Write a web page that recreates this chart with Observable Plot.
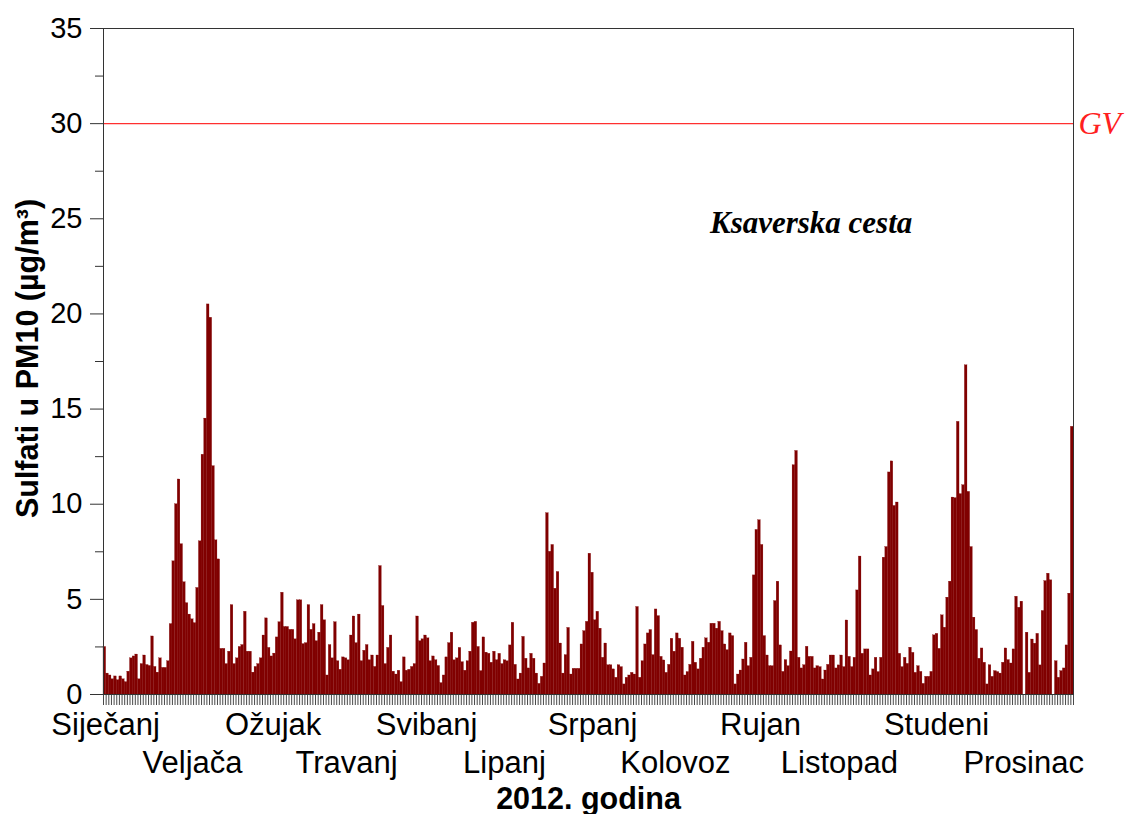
<!DOCTYPE html>
<html>
<head>
<meta charset="utf-8">
<script src="https://cdn.jsdelivr.net/npm/d3@7"></script>
<script src="https://cdn.jsdelivr.net/npm/@observablehq/plot@0.6"></script>
<style>
  html, body { margin: 0; padding: 0; background: #fff; }
  svg { display: block; }
</style>
</head>
<body>
<div id="chart"></div>
<script>
// Daily sulfate in PM10 (µg/m³), Ksaverska cesta, 2012
const jan = [2.5, 1.1, 1.0, 0.8, 0.95, 0.75, 0.95, 0.8, 0.65, 1.2, 1.9, 2.0, 2.1, 0.8, 1.6, 2.05, 1.55, 1.5, 3.05, 1.45, 1.15, 1.9, 1.4, 1.4, 1.75, 3.7, 7.0, 10.0, 11.3, 7.9, 5.9];
const feb = [4.8, 4.2, 3.95, 3.75, 5.6, 8.05, 12.6, 14.5, 20.5, 19.8, 12.0, 8.1, 7.1, 2.4, 2.4, 1.6, 2.25, 4.7, 1.6, 1.9, 2.5, 2.6, 4.35, 2.25, 2.25, 1.15, 1.45, 1.6, 1.9];
const mar = [3.1, 4.0, 2.45, 2.0, 2.15, 3.0, 3.8, 5.35, 3.55, 3.55, 3.4, 3.4, 2.9, 4.95, 4.95, 2.65, 2.7, 4.7, 3.4, 3.7, 2.8, 3.25, 4.7, 3.9, 1.0, 2.6, 1.9, 3.8, 1.75, 1.3, 1.95];
const apr = [1.9, 1.8, 3.1, 4.1, 2.7, 4.2, 1.75, 2.3, 2.6, 1.8, 2.05, 1.45, 2.05, 6.75, 4.65, 1.6, 2.45, 3.1, 1.2, 1.05, 1.25, 0.65, 1.95, 1.25, 1.3, 1.45, 1.6, 4.1, 2.8, 2.9];
const may = [3.1, 2.95, 1.75, 2.0, 1.8, 1.5, 0.6, 1.0, 1.95, 2.7, 3.25, 1.8, 1.9, 2.45, 1.7, 1.25, 1.75, 2.25, 3.77, 3.82, 2.5, 1.23, 3.0, 2.2, 2.14, 1.67, 2.25, 1.8, 2.14, 1.6, 1.8];
const jun = [1.75, 2.58, 3.77, 1.56, 0.79, 1.1, 3.03, 1.88, 1.37, 2.14, 1.88, 1.1, 0.56, 0.93, 1.63, 9.53, 7.5, 7.86, 5.56, 6.44, 2.68, 1.1, 2.07, 3.5, 1.05, 1.35, 1.35, 1.35, 2.63, 3.33];
const jul = [3.82, 7.4, 6.4, 3.9, 4.35, 3.46, 1.93, 2.68, 1.54, 1.54, 1.32, 0.88, 1.54, 1.44, 0.53, 0.88, 1.0, 1.14, 1.05, 4.6, 0.88, 1.75, 2.63, 3.21, 3.39, 2.07, 4.47, 4.12, 1.98, 1.79, 1.14];
const aug = [1.56, 2.93, 2.25, 3.21, 2.93, 2.46, 1.0, 1.18, 1.56, 2.77, 1.67, 1.32, 1.88, 2.46, 2.95, 2.72, 3.72, 3.72, 3.46, 3.82, 3.33, 2.63, 2.33, 3.21, 3.07, 0.53, 1.05, 1.26, 1.84, 2.72, 1.49];
const sep = [1.93, 6.26, 8.65, 9.16, 7.86, 3.07, 2.05, 1.49, 1.49, 4.91, 5.93, 2.58, 1.19, 1.81, 1.49, 2.26, 12.05, 12.8, 1.93, 1.37, 1.54, 2.51, 1.98, 1.98, 1.37, 1.49, 1.44, 0.79, 1.26, 1.56];
const oct = [2.05, 2.05, 1.37, 1.53, 2.05, 1.44, 3.89, 1.98, 1.44, 1.93, 5.47, 7.25, 2.14, 2.37, 2.37, 1.0, 1.32, 1.93, 1.18, 1.93, 7.19, 7.75, 11.67, 12.25, 9.91, 10.09, 2.14, 1.44, 1.93, 1.61, 2.46];
const nov = [2.19, 1.14, 1.49, 1.19, 0.56, 0.93, 0.93, 1.19, 3.11, 3.19, 2.4, 4.16, 3.51, 5.09, 5.93, 10.35, 10.32, 14.33, 10.53, 11.0, 17.3, 10.65, 7.75, 4.04, 3.39, 1.88, 2.42, 1.67, 0.53, 1.54];
const dec = [0.93, 1.23, 1.18, 1.1, 1.67, 2.42, 1.81, 1.63, 2.37, 5.14, 4.56, 4.88, 0, 3.25, 1.14, 2.89, 2.67, 3.19, 1.53, 4.39, 5.96, 6.35, 6.0, 0, 1.75, 0.88, 1.23, 1.37, 2.58, 5.3, 14.07];

const monthNames = ["Siječanj", "Veljača", "Ožujak", "Travanj", "Svibanj", "Lipanj", "Srpanj", "Kolovoz", "Rujan", "Listopad", "Studeni", "Prosinac"];
// day-of-year where each month label is centred in the picture
const monthLabelDays = [0.8, 33.6, 64, 91.7, 121.9, 151.3, 184.5, 215.8, 247.9, 277.7, 314.3, 347.2];

const yTicks = [0, 5, 10, 15, 20, 25, 30, 35];
const yMinorTicks = [2.5, 7.5, 12.5, 17.5, 22.5, 27.5, 32.5];
const limitValue = 30;
const limitLabel = "GV";
const stationName = "Ksaverska cesta";
const stationPos = {day: 267, value: 24.8};
const xTitle = "2012. godina";
const yTitle = "Sulfati u PM10 (µg/m³)";

const values = [...jan, ...feb, ...mar, ...apr, ...may, ...jun, ...jul, ...aug, ...sep, ...oct, ...nov, ...dec];
const data = values.map((v, i) => ({day: i, value: v}));
const dayTicks = d3.range(0, values.length + 1);
const monthIdx = d3.range(monthNames.length);

const sans = '"Liberation Sans", Arial, sans-serif';
const serif = '"Liberation Serif", "Times New Roman", serif';

const plot = Plot.plot({
  width: 1126,
  height: 814,
  marginLeft: 103,
  marginRight: 53,
  marginTop: 28,
  marginBottom: 120,
  style: {fontFamily: sans, background: "#fff", color: "#000", overflow: "visible"},
  x: {domain: [0, values.length], axis: null, label: null},
  y: {domain: [0, 35], axis: null, label: null},
  marks: [
    Plot.rectY(data, {x1: "day", x2: d => d.day + 1, y1: 0, y2: "value", fill: "#800000", stroke: "#800000", strokeWidth: 0.25}),
    Plot.ruleY([limitValue], {stroke: "#ff3030", strokeWidth: 1.3}),
    Plot.frame({stroke: "#333"}),
    Plot.axisY({ticks: yTicks, tickSize: 13, tickPadding: 8, fontSize: 29, stroke: "#333", label: null}),
    Plot.axisY({ticks: yMinorTicks, tickSize: 8, tickFormat: () => "", stroke: "#333", label: null}),
    Plot.axisX({ticks: dayTicks, tickSize: 11, tickFormat: () => "", stroke: "#333", strokeWidth: 0.9, label: null}),
    Plot.text(monthIdx.filter(i => i % 2 === 0), {x: i => monthLabelDays[i], text: i => monthNames[i], frameAnchor: "bottom", lineAnchor: "middle", textAnchor: "middle", dy: 31, fontSize: 31, fill: "#000"}),
    Plot.text(monthIdx.filter(i => i % 2 === 1), {x: i => monthLabelDays[i], text: i => monthNames[i], frameAnchor: "bottom", lineAnchor: "middle", textAnchor: "middle", dy: 69, fontSize: 31, fill: "#000"}),
    Plot.text([xTitle], {frameAnchor: "bottom", lineAnchor: "middle", textAnchor: "middle", dy: 105, fontSize: 30.5, fontWeight: "bold", fill: "#000"}),
    Plot.text([yTitle], {frameAnchor: "left", lineAnchor: "middle", textAnchor: "middle", rotate: -90, dx: -75, dy: -3, fontSize: 30.5, fontWeight: "bold", fill: "#000"}),
    Plot.text([stationName], {x: () => stationPos.day, y: () => stationPos.value, fontFamily: serif, fontStyle: "italic", fontWeight: "bold", fontSize: 31, fill: "#000"}),
    Plot.text([limitLabel], {x: () => values.length, y: () => limitValue, textAnchor: "start", dx: 5, fontFamily: serif, fontStyle: "italic", fontSize: 32, fill: "#ff2020"})
  ]
});

document.getElementById("chart").appendChild(plot);
</script>
</body>
</html>
